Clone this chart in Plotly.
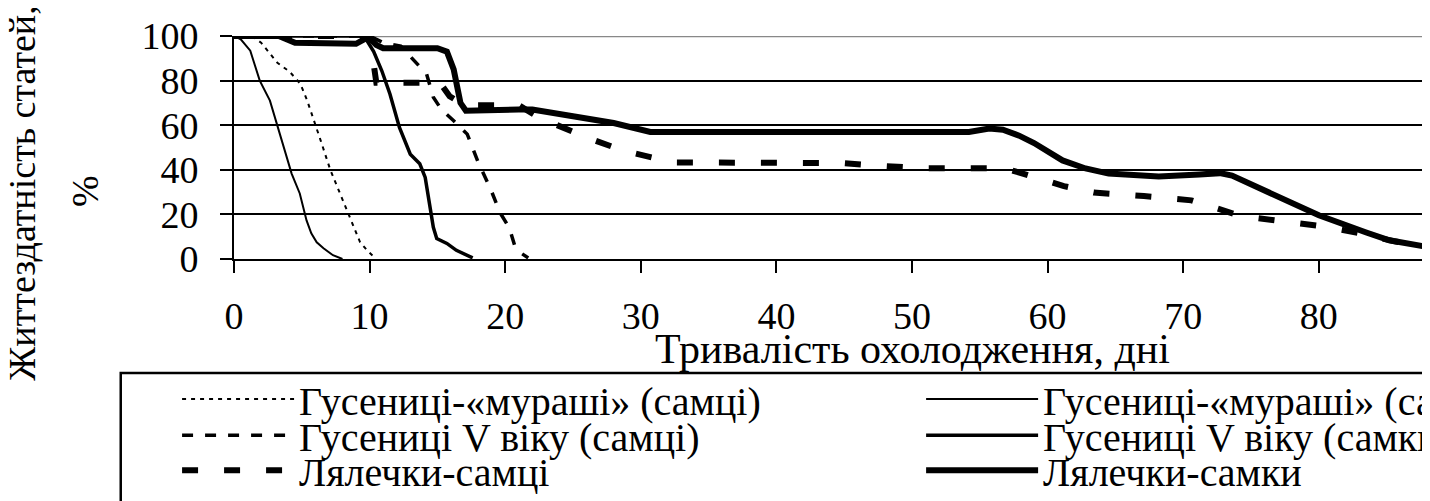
import plotly.graph_objects as go

FONT = "Liberation Serif"

# ---- data (days of cooling, survival %) ----
names = [
    "Гусениці-«мураші» (самці)",
    "Гусениці-«мураші» (самки)",
    "Гусениці V віку (самці)",
    "Гусениці V віку (самки)",
    "Лялечки-самці",
    "Лялечки-самки",
]

days_ant_m = [0, 1.3, 2.0, 3.2, 4.1, 4.9, 5.4, 6.0, 6.4, 7.1, 7.8, 8.5, 8.9, 9.3, 9.8, 10.3]
surv_ant_m = [100, 100, 97, 88, 84, 78.5, 71, 60.5, 53, 40, 29.5, 19, 13, 7.5, 4, 1]

days_ant_f = [0, 0.5, 1.2, 1.9, 2.65, 3.25, 3.75, 4.25, 4.85, 5.35, 5.7, 6.1, 6.6, 7.3, 8.0]
surv_ant_f = [100, 98.5, 93.4, 80, 71, 59, 48.6, 38.3, 29.4, 17.3, 11.5, 7.5, 4.8, 1.7, 0]

days_v_m = [0, 10, 11, 12.3, 13.2, 14.2, 14.7, 15.3, 16.2, 17.2, 18.0, 18.95, 19.6, 20.3, 20.7, 21.2, 21.7]
surv_v_m = [100, 100, 97, 95.5, 89.5, 83, 72.5, 67, 62, 56, 43.5, 31, 21, 14, 6, 2.5, 0.5]

days_v_f = [0, 9.6, 10.3, 10.9, 11.5, 12.2, 13.0, 13.7, 14.1, 14.45, 14.7, 14.95, 15.7, 16.4, 17.6]
surv_v_f = [100, 100, 93, 84.4, 74, 59, 47, 42.7, 36.6, 24.8, 14.2, 9.2, 7, 3.9, 0.5]

days_p_m = [0, 10, 10.5, 15.2, 15.9, 17, 21, 22.5, 26, 28.7, 32.4, 45, 47.1, 50.9, 56.7,
            57.4, 61.2, 63.4, 67.1, 70.6, 74.3, 78, 80.4, 83.5, 85.5, 88.2]
surv_p_m = [100, 100, 79, 79, 73, 69, 69, 63.4, 54.5, 48.6, 43.3, 43, 42, 40.7, 40.7,
            39.7, 32.7, 29.8, 28.2, 26.3, 19.2, 16.6, 14.6, 11, 8, 5.5]

days_p_f = [0, 3.3, 4.5, 9, 9.9, 10.5, 11, 15, 15.7, 16.2, 16.7, 17.1, 21, 22, 25, 27.5, 28,
            30.7, 54.2, 55.7, 56.7, 57.9, 59, 61.1, 62.8, 64.5, 68.2, 71.2, 72.7, 73.6,
            76.6, 78, 80, 83.5, 85.2, 88.2]
surv_p_f = [100, 100, 97, 96.5, 99.5, 96, 94.5, 94.5, 93, 85, 70, 66.5, 67, 67, 64, 62, 61,
            57, 57, 58.5, 58, 55.3, 52, 44.2, 40.6, 38.3, 37, 37.9, 38.5, 37.4,
            29.4, 25, 19.6, 11.9, 8.4, 5.2]

x_ticks = [0, 10, 20, 30, 40, 50, 60, 70, 80]
y_ticks = [0, 20, 40, 60, 80, 100]

# ---- styles ----
styles = [
    dict(color="black", width=2, dash="4px,5px"),
    dict(color="black", width=2),
    dict(color="black", width=3.5, dash="11px,12px"),
    dict(color="black", width=3.5),
    dict(color="black", width=6, dash="16px,26px"),
    dict(color="black", width=6),
]
legend_ids = ["legend", "legend2", "legend3", "legend4", "legend5", "legend6"]
data = [
    (days_ant_m, surv_ant_m),
    (days_ant_f, surv_ant_f),
    (days_v_m, surv_v_m),
    (days_v_f, surv_v_f),
    (days_p_m, surv_p_m),
    (days_p_f, surv_p_f),
]

fig = go.Figure()
order = [5, 4, 3, 2, 1, 0]
for i in order:
    xs, ys = data[i]
    fig.add_trace(go.Scatter(x=xs, y=ys, mode="lines", name=names[i],
                             line=styles[i], legend=legend_ids[i],
                             hoverinfo="skip"))

leg_common = dict(bgcolor="rgba(0,0,0,0)", borderwidth=0,
                  font=dict(family=FONT, size=40, color="black"),
                  itemwidth=112, xanchor="left", yanchor="middle",
                  orientation="v")
col1, col2 = -0.0476, 0.5745
rows = [-0.628, -0.790, -0.947]

fig.update_layout(
    width=1422, height=493,
    margin=dict(l=226, r=0, t=28, b=242, autoexpand=False),
    paper_bgcolor="white", plot_bgcolor="white",
    font=dict(family=FONT, size=38, color="black"),
    showlegend=True,
    legend=dict(x=col1, y=rows[0], **leg_common),
    legend2=dict(x=col2, y=rows[0], **leg_common),
    legend3=dict(x=col1, y=rows[1], **leg_common),
    legend4=dict(x=col2, y=rows[1], **leg_common),
    legend5=dict(x=col1, y=rows[2], **leg_common),
    legend6=dict(x=col2, y=rows[2], **leg_common),
)

fig.update_xaxes(range=[0, 88.2], tickvals=x_ticks, ticks="outside", ticklen=12,
                 tickwidth=2, tickcolor="black", showline=True, linecolor="black",
                 linewidth=2, showgrid=False, zeroline=False, automargin=False,
                 tickfont=dict(family=FONT, size=38, color="black"),
                 ticklabelstandoff=10)
fig.update_yaxes(range=[0, 100], tickvals=y_ticks, ticks="outside", ticklen=12,
                 tickwidth=2, tickcolor="black", showline=True, linecolor="black",
                 linewidth=2, showgrid=True, gridcolor="black", gridwidth=2,
                 zeroline=False, automargin=False,
                 tickfont=dict(family=FONT, size=38, color="black"),
                 ticklabelstandoff=14)

# grey top gridline and the legend frame (cut by the picture edge)
fig.add_shape(type="line", xref="paper", yref="y", x0=0, x1=1, y0=100, y1=100,
              line=dict(color="#888888", width=2.5), layer="between")
fig.add_shape(type="rect", xref="paper", yref="paper", x0=-0.0947, x1=1.1,
              y0=-0.511, y1=-1.2, line=dict(color="black", width=2.5),
              fillcolor="rgba(0,0,0,0)")

fig.add_annotation(text="Життездатність статей,", xref="paper", yref="paper",
                   x=-0.1775, y=0.296, textangle=-90, showarrow=False,
                   xanchor="center", yanchor="middle",
                   font=dict(family=FONT, size=38, color="black"))
fig.add_annotation(text="%", xref="paper", yref="paper",
                   x=-0.1246, y=0.305, textangle=-90, showarrow=False,
                   xanchor="center", yanchor="middle",
                   font=dict(family=FONT, size=38, color="black"))
fig.add_annotation(text="Тривалість охолодження, дні", xref="x", yref="paper",
                   x=50, y=-0.405, showarrow=False,
                   xanchor="center", yanchor="middle",
                   font=dict(family=FONT, size=42, color="black"))

fig.write_html("out.html")
